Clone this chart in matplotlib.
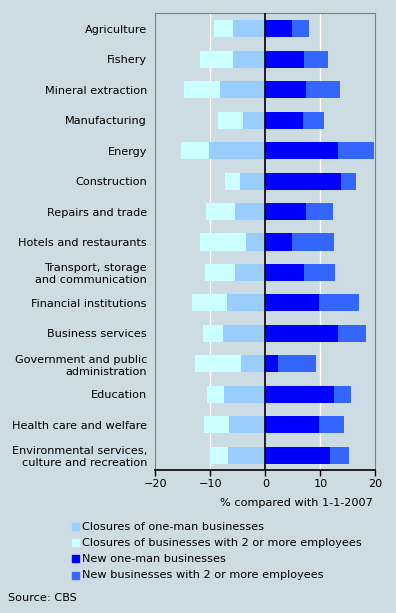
import matplotlib.pyplot as plt
from matplotlib.patches import Rectangle

# sectors, top to bottom
sectors = ['Agriculture', 'Fishery', 'Mineral extraction', 'Manufacturing', 'Energy',
           'Construction', 'Repairs and trade', 'Hotels and restaurants',
           'Transport, storage\nand communication', 'Financial institutions',
           'Business services', 'Government and public\nadministration', 'Education',
           'Health care and welfare', 'Environmental services,\nculture and recreation']

# % compared with 1-1-2007 (closures are negative)
closures_oneman = [-5.9, -5.9, -8.2, -4.1, -10.2, -4.6, -5.5, -3.5, -5.5, -7.0, -7.7, -4.4, -7.5, -6.6, -6.8]
closures_2plus = [-3.4, -6.0, -6.6, -4.5, -5.1, -2.7, -5.3, -8.4, -5.5, -6.3, -3.6, -8.4, -3.1, -4.5, -3.3]
new_oneman = [4.9, 7.0, 7.4, 6.9, 13.2, 13.8, 7.4, 4.9, 7.0, 9.8, 13.2, 2.3, 12.5, 9.8, 11.8]
new_2plus = [3.1, 4.4, 6.2, 3.8, 6.6, 2.7, 4.9, 7.6, 5.7, 7.3, 5.1, 6.9, 3.1, 4.5, 3.4]

labels = ['Closures of one-man businesses',
          'Closures of businesses with 2 or more employees',
          'New one-man businesses',
          'New businesses with 2 or more employees']
colors = ['#99ccff', '#ccffff', '#0000ff', '#3366ff']

bg = '#cddce2'
fs = 8.1
plt.rcParams['font.family'] = 'DejaVu Sans'
fig = plt.figure(figsize=(3.96, 6.13), dpi=100, facecolor=bg)
ax = fig.add_axes([0.392, 0.2325, 0.556, 0.7455], facecolor=bg)

y = list(range(len(sectors)))
h = 0.56
ax.barh(y, closures_oneman, height=h, color=colors[0], zorder=2)
ax.barh(y, closures_2plus, left=closures_oneman, height=h, color=colors[1], zorder=2)
ax.barh(y, new_oneman, height=h, color=colors[2], zorder=2)
ax.barh(y, new_2plus, left=new_oneman, height=h, color=colors[3], zorder=2)

ax.set_xlim(-20, 20)
ax.set_ylim(len(sectors) - 0.5, -0.5)
for gx in (-10, 10):
    ax.axvline(gx, color='white', lw=1, zorder=1)
ax.axvline(0, color='black', lw=1.2, zorder=3)

ax.set_yticks(y)
ax.set_yticklabels(sectors, fontsize=fs, ha='right', linespacing=1.25)
ax.tick_params(axis='y', length=0, pad=6)
ax.set_xticks([-20, -10, 0, 10, 20])
ax.tick_params(axis='x', labelsize=fs, length=4, width=1, direction='out', pad=2)
for s in ('left', 'top', 'right'):
    ax.spines[s].set_color('#808080')
ax.spines['bottom'].set_color('black')
ax.spines['bottom'].set_linewidth(1.2)

fig.text(373 / 396, 1 - 503 / 613, '% compared with 1-1-2007', ha='right', va='center', fontsize=fs)

for i, (lab, c) in enumerate(zip(labels, colors)):
    yy = 1 - (526.5 + i * 16.2) / 613
    fig.patches.append(Rectangle((72 / 396, yy - 3.5 / 613), 7 / 396, 7 / 613,
                                 transform=fig.transFigure, color=c))
    fig.text(82 / 396, yy, lab, ha='left', va='center', fontsize=fs)

fig.text(8 / 396, 1 - 598 / 613, 'Source: CBS', ha='left', va='center', fontsize=fs)

fig.savefig('out.png', dpi=100, facecolor=bg)
